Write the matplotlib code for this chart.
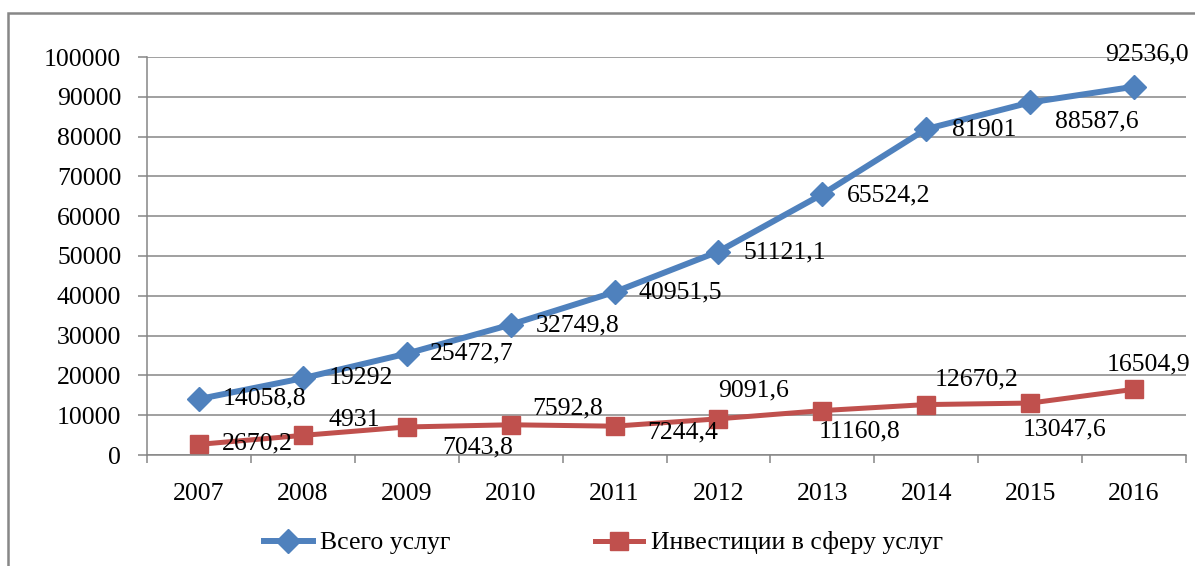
import matplotlib.pyplot as plt
from matplotlib.patches import Rectangle

# data
years = ['2007', '2008', '2009', '2010', '2011', '2012', '2013', '2014', '2015', '2016']
total = [14058.8, 19292, 25472.7, 32749.8, 40951.5, 51121.1, 65524.2, 81901, 88587.6, 92536.0]
invest = [2670.2, 4931, 7043.8, 7592.8, 7244.4, 9091.6, 11160.8, 12670.2, 13047.6, 16504.9]
total_lbl = ['14058,8', '19292', '25472,7', '32749,8', '40951,5', '51121,1', '65524,2', '81901', '88587,6', '92536,0']
invest_lbl = ['2670,2', '4931', '7043,8', '7592,8', '7244,4', '9091,6', '11160,8', '12670,2', '13047,6', '16504,9']

# label offsets in pixels (left edge, vertical centre)
total_off = [(24, -1), (26, -2), (23, -2), (25, -3), (24, -2), (25, -3), (25, -3), (26, -3), (25, -21), (-29, 30)]
invest_off = [(23, -1), (26, 13), (36, -22), (22, 14), (33, -8), (0, 26), (-4, -23), (8, 23), (-7, -28), (-27, 23)]

plt.rcParams['font.family'] = ['Liberation Serif', 'DejaVu Serif']
FS = 18.5
GRAY = '#868686'
BLUE = '#4F81BD'
RED = '#C0504D'

fig = plt.figure(figsize=(11.95, 5.66), dpi=100)
ax = fig.add_axes([147 / 1195, 1 - 455 / 566, (1186 - 147) / 1195, (455 - 57) / 566])

x = list(range(len(years)))
ax.plot(x, total, color=BLUE, lw=4.3, marker='D', ms=12, label='Всего услуг', zorder=3)
ax.plot(x, invest, color=RED, lw=3.6, marker='s', ms=13, label='Инвестиции в сферу услуг', zorder=3)

for xi, v, s, (dx, dy) in zip(x, total, total_lbl, total_off):
    ax.annotate(s, (xi, v), xytext=(dx, dy + 2), textcoords='offset pixels',
                ha='left', va='center', fontsize=FS, zorder=4)
for xi, v, s, (dx, dy) in zip(x, invest, invest_lbl, invest_off):
    ax.annotate(s, (xi, v), xytext=(dx, dy + 2), textcoords='offset pixels',
                ha='left', va='center', fontsize=FS, zorder=4)

ax.set_xlim(-0.5, 9.5)
ax.set_ylim(0, 100000)
ax.set_yticks(range(0, 100001, 10000))
ax.set_yticklabels([str(v) for v in range(0, 100001, 10000)], fontsize=FS)
ax.set_xticks(x)
ax.set_xticklabels(years, fontsize=FS)
ax.set_xticks([i - 0.5 for i in range(11)], minor=True)
ax.tick_params(axis='x', which='major', length=0, pad=20)
ax.tick_params(axis='x', which='minor', length=6, width=1.1, color=GRAY)
ax.tick_params(axis='y', length=6.5, width=1.1, color=GRAY, pad=12)
ax.grid(axis='y', color=GRAY, lw=1.1)
ax.set_axisbelow(True)
for side in ['top', 'right']:
    ax.spines[side].set_visible(False)
for side in ['left', 'bottom']:
    ax.spines[side].set_color(GRAY)
    ax.spines[side].set_linewidth(1.1)

fig.legend(loc='center', bbox_to_anchor=(0.505, 1 - 543 / 566), ncol=2, frameon=False,
           fontsize=FS, handlelength=1.9, handletextpad=0.3, columnspacing=5.6)

# chart border (only top/left visible in the crop)
fig.patches.append(Rectangle((8 / 1195, -0.2), 1.2, 0.2 + 1 - 13 / 566, transform=fig.transFigure,
                             fill=False, edgecolor='#878787', lw=1.8, clip_on=False))

fig.savefig('out.png', dpi=100)
